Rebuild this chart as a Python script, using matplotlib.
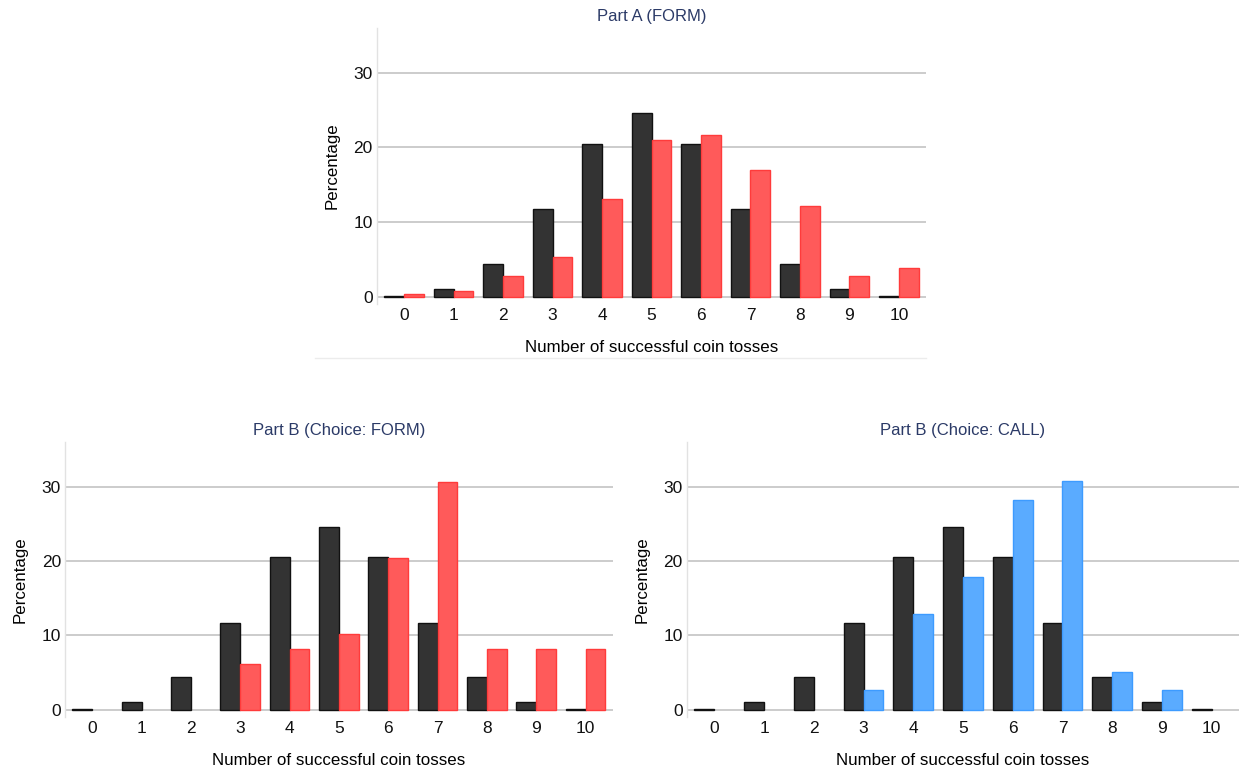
import matplotlib

matplotlib.use("Agg")

import matplotlib.pyplot as plt
from matplotlib.lines import Line2D
import numpy as np

plt.rcParams["font.family"] = ["Liberation Sans", "DejaVu Sans"]
plt.rcParams["font.size"] = 12

TOSSES = list(range(11))
TICK_LABELS = [str(t) for t in TOSSES]

# benchmark distribution (fair coin), shown in every panel
EXPECTED = [0.1, 1.0, 4.4, 11.7, 20.5, 24.6, 20.5, 11.7, 4.4, 1.0, 0.1]

PART_A_FORM = [0.3, 0.8, 2.7, 5.3, 13.1, 21.0, 21.6, 16.9, 12.1, 2.7, 3.8]
PART_B_FORM = [0.0, 0.0, 0.0, 6.1, 8.2, 10.2, 20.4, 30.6, 8.2, 8.2, 8.2]
PART_B_CALL = [0.0, 0.0, 0.0, 2.6, 12.8, 17.9, 28.2, 30.8, 5.1, 2.6, 0.0]

DARK_FACE = "#333333"
DARK_EDGE = "#111111"
RED_FACE = "#ff5a5a"
RED_EDGE = "#ff3b3b"
BLUE_FACE = "#5aabff"
BLUE_EDGE = "#3d9bff"
TITLE_COLOR = "#2b3a67"
GRID_COLOR = "#c8c8c8"
BAR_WIDTH = 0.4


def draw_panel(ax, title, values, face, edge):
    x = np.array(TOSSES)
    ax.bar(x - BAR_WIDTH / 2, EXPECTED, width=BAR_WIDTH, color=DARK_FACE,
           edgecolor=DARK_EDGE, linewidth=1.0, zorder=3)
    # empty categories get no outline so nothing shows on the baseline
    widths = [1.0 if v > 0 else 0.0 for v in values]
    ax.bar(x + BAR_WIDTH / 2, values, width=BAR_WIDTH, color=face,
           edgecolor=edge, linewidth=widths, zorder=3)

    ax.set_xlim(-0.55, 10.55)
    ax.set_ylim(-1.0, 36.0)
    ax.set_yticks([0, 10, 20, 30])
    ax.set_xticks(TOSSES)
    ax.set_xticklabels(TICK_LABELS)
    ax.tick_params(length=0, pad=3, labelsize=12.5, colors="#111111")

    ax.grid(axis="y", color=GRID_COLOR, linewidth=1.3, zorder=0)
    ax.set_axisbelow(True)
    for side in ("top", "right", "bottom"):
        ax.spines[side].set_visible(False)
    ax.spines["left"].set_color("#e2e2e2")
    ax.spines["left"].set_linewidth(1.0)

    ax.set_title(title, color=TITLE_COLOR, fontsize=12, pad=5)
    ax.set_xlabel("Number of successful coin tosses", fontsize=12.2, labelpad=12)
    ax.set_ylabel("Percentage", fontsize=12.2, labelpad=10)


fig = plt.figure(figsize=(12.39, 7.70), dpi=100)

ax_top = fig.add_axes([0.3043, 0.6052, 0.4431, 0.3584])
ax_left = fig.add_axes([0.0525, 0.0688, 0.4420, 0.3571])
ax_right = fig.add_axes([0.5545, 0.0688, 0.4455, 0.3571])

draw_panel(ax_top, "Part A (FORM)", PART_A_FORM, RED_FACE, RED_EDGE)
draw_panel(ax_left, "Part B (Choice: FORM)", PART_B_FORM, RED_FACE, RED_EDGE)
draw_panel(ax_right, "Part B (Choice: CALL)", PART_B_CALL, BLUE_FACE, BLUE_EDGE)

# thin separator under the Part A panel
fig.add_artist(Line2D([315 / 1239, 926 / 1239], [1 - 358 / 770, 1 - 358 / 770],
                      color="#ececec", linewidth=1.0))

fig.savefig("out.png", dpi=100)
plt.close(fig)
